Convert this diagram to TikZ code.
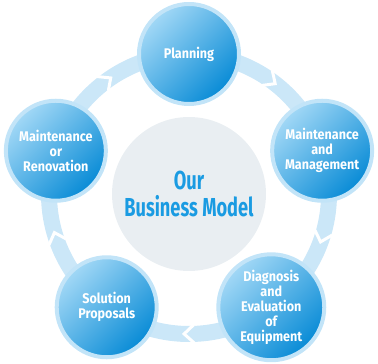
\documentclass[tikz,border=0pt]{standalone}
\usepackage{fontspec}
\newfontfamily\labelfont[FakeStretch=0.9]{Fira Sans}
\newfontfamily\hubfont[FakeStretch=0.7]{Fira Sans}
\definecolor{ringblue}{HTML}{CBE7F8}
\definecolor{rimblue}{HTML}{C2E4F8}
\definecolor{lightblue}{HTML}{A2D8F6}
\definecolor{midblue}{HTML}{3FAAE6}
\definecolor{deepblue}{HTML}{088BD6}
\definecolor{hubgrey}{HTML}{E9EEF2}
\definecolor{hubtext}{HTML}{1A9BE2}
\tikzset{
  stage/.style={circle, minimum size=100pt, draw=rimblue, line width=4pt,
    top color=lightblue, middle color=midblue, bottom color=deepblue, shading angle=45,
    text=white, align=center, font=\labelfont\bfseries\fontsize{14}{15}\selectfont},
  gap/.style={white, line width=3pt, line join=miter}
}
\begin{document}
\begin{tikzpicture}[x=1pt, y=1pt]
    \useasboundingbox (-189,-170) rectangle (189,194);
    % ring behind the stages
    \draw[ringblue, line width=16pt] (0,0) circle (140);
    % chevron breaks, pointing clockwise
    \draw[gap] (56:149) -- (52:140) -- (56:131);
    \draw[gap] (-16:149) -- (-20:140) -- (-16:131);
    \draw[gap] (-88:149) -- (-92:140) -- (-88:131);
    \draw[gap] (-160:149) -- (-164:140) -- (-160:131);
    \draw[gap] (128:149) -- (124:140) -- (128:131);

    % hub
    \node[circle, fill=hubgrey, minimum size=154pt, text=hubtext, align=center,
          font=\hubfont\bfseries\fontsize{26}{27}\selectfont] (hub) at (0,0) {Our\\Business Model};

    % stages
    \node[stage] (plan) at (90:140) {Planning};
    \node[stage] (mgmt) at (18:140) {Maintenance\\and\\Management};
    \node[stage] (diag) at (-54:140) {Diagnosis\\and\\Evaluation\\of\\Equipment};
    \node[stage] (sol) at (-126:140) {Solution\\Proposals};
    \node[stage] (reno) at (162:140) {Maintenance\\or\\Renovation};
\end{tikzpicture}
\end{document}
